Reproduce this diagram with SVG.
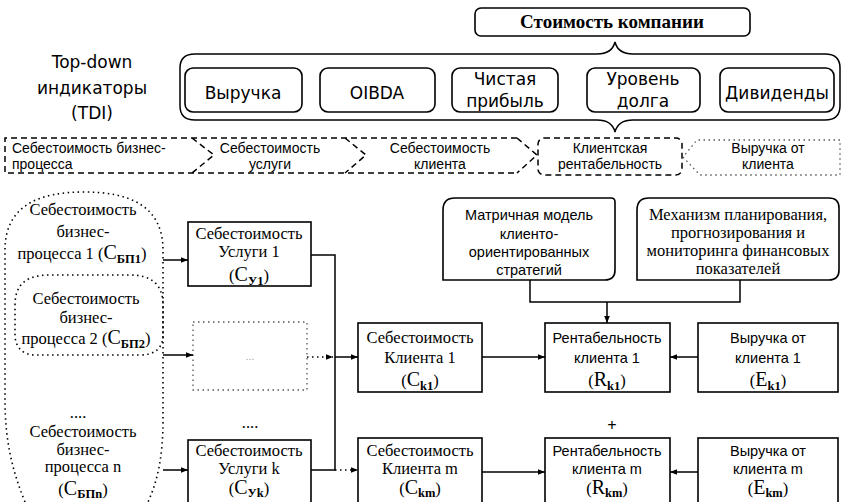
<svg xmlns="http://www.w3.org/2000/svg" width="843" height="502" viewBox="0 0 843 502">
<defs>
<style>
.ln{fill:none;stroke:#000;stroke-width:1.5}
.box{fill:#fff;stroke:#000;stroke-width:1.6}
.dash{fill:none;stroke:#000;stroke-width:1.5;stroke-dasharray:6 4}
.dot{fill:none;stroke:#000;stroke-width:1.6;stroke-dasharray:1.5 3.5}
.dotl{fill:none;stroke:#555;stroke-width:1.3;stroke-dasharray:1.5 3.5}
.t1{font-family:"DejaVu Sans",sans-serif;font-size:17px;fill:#000;text-anchor:middle}
.t2{font-family:"Liberation Sans",Arial,sans-serif;font-size:14px;fill:#000}
.c{text-anchor:middle}
.sr{font-family:"Liberation Serif","Times New Roman",serif;font-size:16.5px;fill:#000;text-anchor:middle}
.ss{font-family:"Liberation Sans",Arial,sans-serif;font-size:14.5px;fill:#000;text-anchor:middle}
.big{font-size:20px}
.sub{font-size:12.5px;font-weight:bold}
</style>
<marker id="ar" viewBox="0 0 10 10" refX="10" refY="5" markerWidth="7" markerHeight="7" markerUnits="userSpaceOnUse" orient="auto">
<path d="M0 1 L10 5 L0 9 Z" fill="#000"/>
</marker>
</defs>

<g id="value">
<rect x="475" y="8" width="275" height="28" rx="6" class="box"/>
<text x="612" y="28" font-family="Liberation Serif, serif" font-weight="bold" font-size="19" text-anchor="middle">Стоимость компании</text>
</g>

<g id="tdi-label">
<text class="t1" font-size="18" x="92" y="68">Top-down</text>
<text class="t1" font-size="18" x="92" y="94">индикаторы</text>
<text class="t1" font-size="18" x="92" y="119">(TDI)</text>
</g>

<g id="tdi-bracket">
<path class="ln" d="M195 54 L597 54 Q612 54 615 42 Q618 54 633 54 L825 54 Q840 54 840 68 L840 106 Q840 120 825 120 L633 120 Q618 120 615 132 Q612 120 597 120 L195 120 Q180 120 180 106 L180 68 Q180 54 195 54 Z"/>
</g>

<g id="revenue">
<rect x="185" y="68" width="117" height="44" rx="8" class="box"/>
<text class="t1" x="243" y="99">Выручка</text>
</g>
<g id="oibda">
<rect x="320" y="68" width="115" height="44" rx="8" class="box"/>
<text class="t1" x="377" y="99">OIBDA</text>
</g>
<g id="net-profit">
<rect x="452" y="68" width="106" height="44" rx="8" class="box"/>
<text class="t1" x="505" y="85">Чистая</text>
<text class="t1" x="505" y="107">прибыль</text>
</g>
<g id="debt">
<rect x="587" y="68" width="113" height="44" rx="8" class="box"/>
<text class="t1" x="643" y="85">Уровень</text>
<text class="t1" x="643" y="107">долга</text>
</g>
<g id="dividends">
<rect x="720" y="68" width="114" height="44" rx="8" class="box"/>
<text class="t1" x="777" y="99">Дивиденды</text>
</g>

<g id="cost-chain">
<path class="dash" d="M517 138 L5 138 L5 173 L517 173 M517 138 L537 155 L517 173 M192 138 L214 155 L192 173 M345 138 L366 155 L345 173"/>
<text class="t2" x="12" y="153">Себестоимость бизнес-</text>
<text class="t2" x="12" y="169">процесса</text>
<text class="t2 c" x="270" y="153">Себестоимость</text>
<text class="t2 c" x="270" y="169">услуги</text>
<text class="t2 c" x="440" y="153">Себестоимость</text>
<text class="t2 c" x="440" y="169">клиента</text>
</g>

<g id="client-profitability">
<rect x="538" y="138" width="144" height="37" rx="6" class="dash"/>
<text class="t2 c" x="610" y="153">Клиентская</text>
<text class="t2 c" x="610" y="169">рентабельность</text>
</g>

<g id="client-revenue">
<path class="dotl" d="M840 140 L697 140 L683 157 L700 175 L840 175 Z"/>
<text class="t2 c" x="768" y="153">Выручка от</text>
<text class="t2 c" x="768" y="169">клиента</text>
</g>

<g id="bp-all">
<path class="dot" d="M25 502 C12 470 5 440 5 400 L5 250 C5 205 40 192 84 192 C128 192 163 205 163 250 L163 420 C163 455 158 480 148 502"/>
<text class="sr" x="83" y="215">Себестоимость</text>
<text class="sr" x="83" y="237">бизнес-</text>
<text class="sr" x="82" y="259">процесса 1 (<tspan class="big">С</tspan><tspan class="sub" dy="4">БП1</tspan><tspan dy="-4">)</tspan></text>
<text class="sr" x="78" y="418">....</text>
<text class="sr" font-size="16" x="83" y="437">Себестоимость</text>
<text class="sr" font-size="16" x="83" y="454.5">бизнес-</text>
<text class="sr" font-size="16" x="83" y="472">процесса n</text>
<text class="sr" x="83" y="495">(<tspan class="big">С</tspan><tspan class="sub" dy="2.5">БПn</tspan><tspan dy="-2.5">)</tspan></text>
</g>

<g id="bp-2">
<path class="dot" d="M15 305 C15 283 28 275 50 275 L130 275 C152 275 163 285 163 305 L163 335 C163 348 155 355 140 355 L35 355 C22 355 15 346 15 335 Z"/>
<text class="sr" x="86" y="304">Себестоимость</text>
<text class="sr" x="86" y="323">бизнес-</text>
<text class="sr" x="86" y="344">процесса 2 (<tspan class="big">С</tspan><tspan class="sub" dy="4">БП2</tspan><tspan dy="-4">)</tspan></text>
</g>

<g id="svc-1">
<rect x="188" y="222" width="123" height="64" class="box"/>
<text class="sr" x="249" y="239">Себестоимость</text>
<text class="sr" x="249" y="257">Услуги 1</text>
<text class="sr" x="249" y="281">(<tspan class="big">С</tspan><tspan class="sub" dy="4">У1</tspan><tspan dy="-4">)</tspan></text>
</g>

<g id="svc-x">
<rect x="193" y="322" width="114" height="68" class="dotl"/>
<text x="250" y="360" font-family="Liberation Sans, sans-serif" font-size="10" fill="#999" text-anchor="middle">...</text>
</g>
<text class="sr" x="250" y="428">....</text>

<g id="svc-k">
<rect x="188" y="440" width="123" height="64" class="box"/>
<text class="sr" x="249" y="456">Себестоимость</text>
<text class="sr" x="249" y="474">Услуги k</text>
<text class="sr" x="249" y="494">(<tspan class="big">С</tspan><tspan class="sub" dy="3">Уk</tspan><tspan dy="-3">)</tspan></text>
</g>

<g id="client-cost-1">
<rect x="358" y="323" width="124" height="69" class="box"/>
<text class="sr" x="420" y="343">Себестоимость</text>
<text class="sr" x="420" y="363">Клиента 1</text>
<text class="sr" x="420" y="386">(<tspan class="big">С</tspan><tspan class="sub" dy="4">k1</tspan><tspan dy="-4">)</tspan></text>
</g>

<g id="client-cost-m">
<rect x="358" y="438" width="124" height="66" class="box"/>
<text class="sr" x="420" y="456">Себестоимость</text>
<text class="sr" x="420" y="474">Клиента m</text>
<text class="sr" x="420" y="494">(<tspan class="big">С</tspan><tspan class="sub" dy="3">km</tspan><tspan dy="-3">)</tspan></text>
</g>

<g id="profit-1">
<rect x="545" y="323" width="125" height="69" class="box"/>
<text class="ss" x="607" y="343">Рентабельность</text>
<text class="ss" x="607" y="363">клиента 1</text>
<text class="sr" x="607" y="386">(<tspan class="big">R</tspan><tspan class="sub" dy="4">k1</tspan><tspan dy="-4">)</tspan></text>
</g>

<g id="profit-m">
<rect x="545" y="438" width="125" height="66" class="box"/>
<text class="ss" x="607" y="456">Рентабельность</text>
<text class="ss" x="607" y="474">клиента m</text>
<text class="sr" x="607" y="494">(<tspan class="big">R</tspan><tspan class="sub" dy="3">km</tspan><tspan dy="-3">)</tspan></text>
</g>

<text class="sr" x="612" y="431" font-size="20" font-weight="bold">+</text>

<g id="rev-1">
<rect x="698" y="323" width="140" height="69" class="box"/>
<text class="ss" x="768" y="343">Выручка от</text>
<text class="ss" x="768" y="363">клиента 1</text>
<text class="sr" x="768" y="386">(<tspan class="big">E</tspan><tspan class="sub" dy="4">k1</tspan><tspan dy="-4">)</tspan></text>
</g>

<g id="rev-m">
<rect x="698" y="438" width="140" height="66" class="box"/>
<text class="ss" x="768" y="456">Выручка от</text>
<text class="ss" x="768" y="474">клиента m</text>
<text class="sr" x="768" y="494">(<tspan class="big">E</tspan><tspan class="sub" dy="3">km</tspan><tspan dy="-3">)</tspan></text>
</g>

<g id="matrix-model">
<path class="box" d="M443 280 L443 210 Q443 198 455 198 L611 198 Q615 198 615 202 L615 270 Q615 280 605 280 Z"/>
<text class="ss" x="529" y="220">Матричная модель</text>
<text class="ss" x="529" y="239">клиенто-</text>
<text class="ss" x="529" y="257">ориентированных</text>
<text class="ss" x="529" y="275">стратегий</text>
</g>

<g id="planning">
<path class="box" d="M637 280 L637 210 Q637 198 649 198 L829 198 Q839 198 839 208 L839 270 Q839 280 829 280 Z"/>
<text class="sr" x="738" y="220">Механизм планирования,</text>
<text class="sr" x="738" y="238">прогнозирования и</text>
<text class="sr" x="738" y="256">мониторинга финансовых</text>
<text class="sr" x="738" y="274">показателей</text>
</g>

<g id="connectors">
<line class="ln" x1="163" y1="260" x2="188" y2="260" marker-end="url(#ar)"/>
<line class="ln" x1="163" y1="355" x2="193" y2="355" marker-end="url(#ar)"/>
<line class="ln" x1="163" y1="470" x2="188" y2="470" marker-end="url(#ar)"/>
<polyline class="ln" points="311,255 335,255 335,470 311,470"/>
<line class="ln" x1="335" y1="357" x2="358" y2="357" marker-end="url(#ar)"/>
<line class="dot" x1="307" y1="357" x2="333" y2="357" marker-end="url(#ar)"/>
<line class="dot" x1="335" y1="470" x2="358" y2="470" marker-end="url(#ar)"/>
<line class="ln" x1="482" y1="357" x2="545" y2="357" marker-end="url(#ar)"/>
<line class="ln" x1="482" y1="472" x2="545" y2="472" marker-end="url(#ar)"/>
<line class="ln" x1="698" y1="357" x2="670" y2="357" marker-end="url(#ar)"/>
<line class="ln" x1="698" y1="472" x2="670" y2="472" marker-end="url(#ar)"/>
<polyline class="ln" points="530,280 530,302 740,302 740,280"/>
<line class="ln" x1="607" y1="302" x2="607" y2="323" marker-end="url(#ar)"/>
</g>
</svg>
